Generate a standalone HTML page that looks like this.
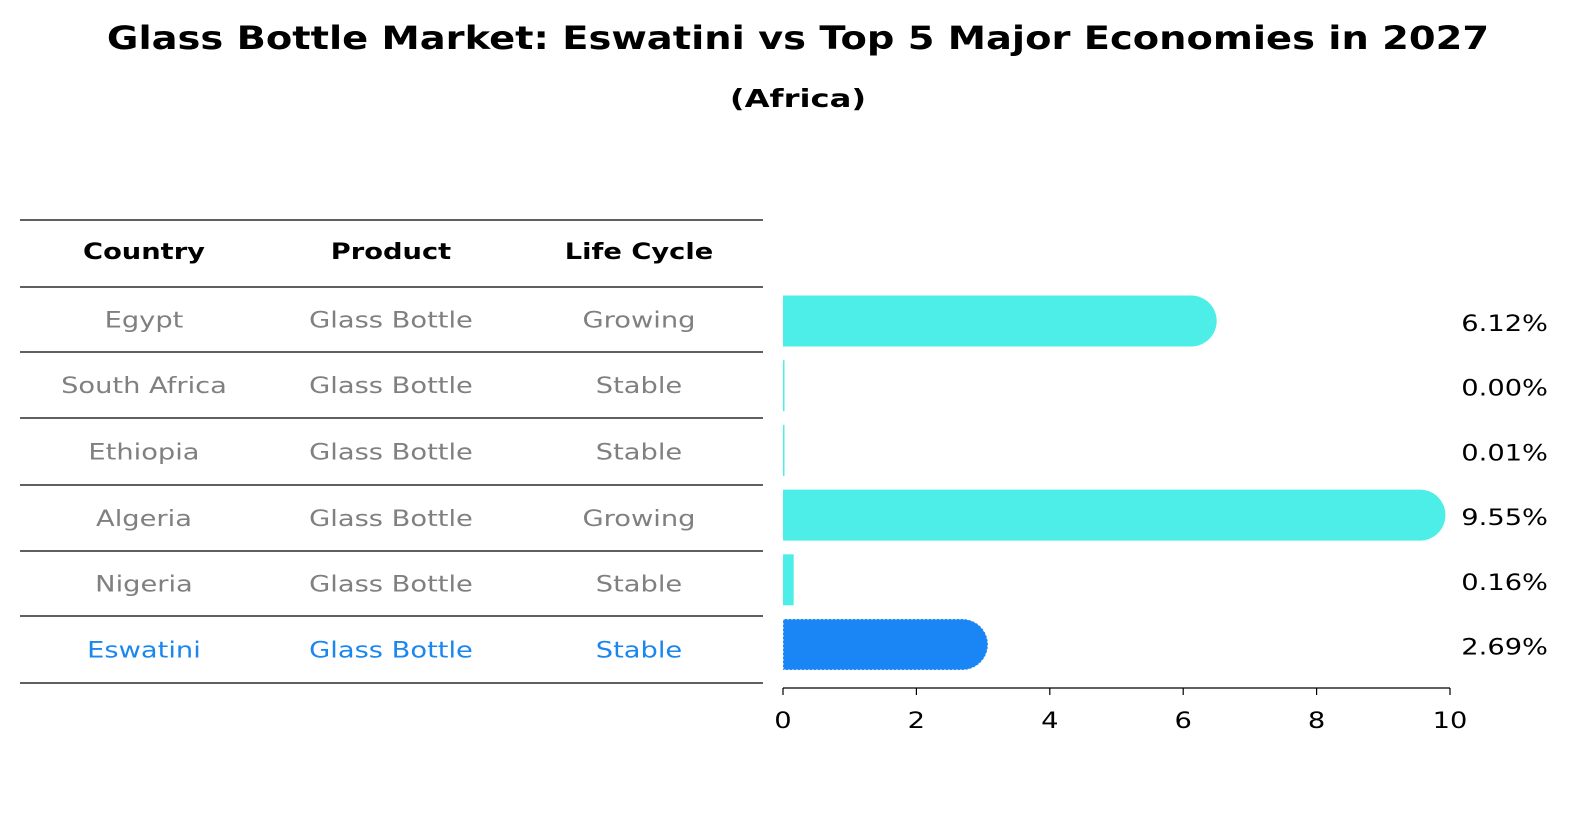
<!DOCTYPE html>
<html><head><meta charset="utf-8"><style>
html,body{margin:0;padding:0;background:#fff;overflow:hidden;width:1586px;height:823px;}
svg{display:block;}
svg text{font-family:"DejaVu Sans","Liberation Sans",sans-serif;}
</style></head><body>
<svg width="1586" height="823" xmlns="http://www.w3.org/2000/svg">
<text x="798" y="49" text-anchor="middle" font-size="32" font-weight="bold" class="st" data-k="1.2">Glass Bottle Market: Eswatini vs Top 5 Major Economies in 2027</text>
<text x="798" y="107" text-anchor="middle" font-size="25" font-weight="bold" class="st" data-k="1.29">(Africa)</text>
<g id="table"></g>
<g id="bars"></g>
<g id="axis"></g>
</svg>
<script>
const countries=["Egypt","South Africa","Ethiopia","Algeria","Nigeria","Eswatini"];
const products=["Glass Bottle","Glass Bottle","Glass Bottle","Glass Bottle","Glass Bottle","Glass Bottle"];
const lifeCycles=["Growing","Stable","Stable","Growing","Stable","Stable"];
const values=[6.12,0.00,0.01,9.55,0.16,2.69];
const ticks=[0,2,4,6,8,10];
const NS="http://www.w3.org/2000/svg";
function mk(tag,attrs,parent){const e=document.createElementNS(NS,tag);for(const k in attrs)e.setAttribute(k,attrs[k]);parent.appendChild(e);return e;}
const x0=783,x1=1450,xmax=10;
const xs=v=>x0+(x1-x0)*v/xmax;
const rowY=i=>321+i*64.7;
const barH=51,r=25.5;
const FS=22;
const table=document.getElementById('table'),bars=document.getElementById('bars'),axis=document.getElementById('axis');
const lineYs=[220,287,352,418,485,551,616,683];
lineYs.forEach(y=>{const l=mk('line',{x1:20,x2:763,y1:y,y2:y,stroke:'#000','stroke-width':1.2},table);

});
const colX=[144,391,639];
["Country","Product","Life Cycle"].forEach((h,j)=>{const t=mk('text',{x:colX[j],y:259,'text-anchor':'middle','font-size':FS,'font-weight':'bold',class:'st'},table);t.textContent=h;

});
countries.forEach((c,i)=>{
 const y=(lineYs[i+1]+lineYs[i+2])/2+8;
 const col=c==="Eswatini"?"#1a86f0":"#808080";
 [c,products[i],lifeCycles[i]].forEach((s,j)=>{const t=mk('text',{x:colX[j],y:y,'text-anchor':'middle','font-size':FS,fill:col,class:'st'},table);t.textContent=s;
 
 });
 const cy=rowY(i),w=xs(values[i])-x0;
 const fill=c==="Eswatini"?"#1a86f5":"#4deee8";
 let b;
 if(w>r){b=mk('path',{d:`M${x0},${cy-barH/2} H${x0+w} A${r},${r} 0 0 1 ${x0+w},${cy+barH/2} H${x0} Z`,fill:fill},bars);}
 else{b=mk('rect',{x:x0,y:cy-barH/2,width:Math.max(w,1.5),height:barH,fill:fill},bars);}
 if(c==="Eswatini"){b.setAttribute('stroke','#ffffff');b.setAttribute('stroke-dasharray','2,2');b.setAttribute('stroke-width','1');}
 
 
 const t=mk('text',{x:1548,y:cy+10,'text-anchor':'end','font-size':FS,class:'st'},bars);t.textContent=values[i].toFixed(2)+'%';
 
 
});
const al=mk('line',{x1:x0,x2:x1,y1:688,y2:688,stroke:'#000','stroke-width':1.2},axis);


ticks.forEach(v=>{const tl=mk('line',{x1:xs(v),x2:xs(v),y1:688,y2:695,stroke:'#000','stroke-width':1.2},axis);


const t=mk('text',{x:xs(v),y:728,'text-anchor':'middle','font-size':FS,class:'st'},axis);t.textContent=v;

});
document.querySelectorAll('text.st').forEach(t=>{
 const k=parseFloat(t.getAttribute('data-k')||'1.24');
 const L=t.getComputedTextLength();
 if(L>0){t.setAttribute('textLength',(L*k).toFixed(1));t.setAttribute('lengthAdjust','spacingAndGlyphs');}
});
</script>
</body></html>
